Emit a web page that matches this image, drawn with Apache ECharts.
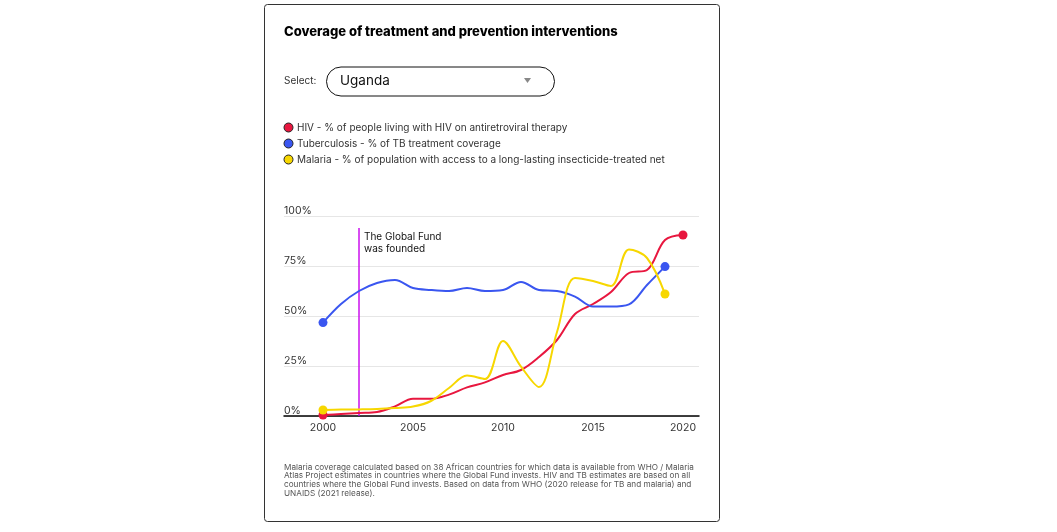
<!DOCTYPE html>
<html><head><meta charset="utf-8">
<script src="https://cdn.jsdelivr.net/npm/echarts@6/dist/echarts.min.js"></script>
<style>html,body{margin:0;padding:0;background:#fff}#c{width:1057px;height:532px}</style>
</head><body><div id="c"></div>
<script>
const years = [2000,2001,2002,2003,2004,2005,2006,2007,2008,2009,2010,2011,2012,2013,2014,2015,2016,2017,2018,2019,2020];
const xTicks = [2000,2005,2010,2015,2020];
const yTicks = [0,25,50,75,100];
const hiv = [0.5,1,1.5,2,4.8,8.6,8.6,10.7,14.3,16.8,20.5,23,29.5,38,51,56,62,71.5,73,88,90.5];
const tb = [46.7,56,62.5,66.5,68,64,63,62.5,64,62.5,63,67,63,62.5,59.7,54.7,54.7,55.8,65.5,74.7];
const malaria = [3,3.2,3.3,3.5,4,4.7,7.5,14,20.2,18.5,37.5,24.7,14.5,42,69,67.5,65,83.3,79,61];
const names = [
  'HIV - % of people living with HIV on antiretroviral therapy',
  'Tuberculosis - % of TB treatment coverage',
  'Malaria - % of population with access to a long-lasting insecticide-treated net'
];
const colors = ['#e8173f','#3a56f0','#f7d700'];
const foundedYear = 2002;
const foundedTop = 94;
const title = 'Coverage of treatment and prevention interventions';
const selectLabel = 'Select:';
const selected = 'Uganda';
const note = 'Malaria coverage calculated based on 38 African countries for which data is available from WHO / Malaria\nAtlas Project estimates in countries where the Global Fund invests. HIV and TB estimates are based on all\ncountries where the Global Fund invests. Based on data from WHO (2020 release for TB and malaria) and\nUNAIDS (2021 release).';

const FONT = 'Inter, "Noto Sans", sans-serif';
const seriesData = [hiv, tb, malaria];
const series = [];
series.push({
  type: 'line', data: [[foundedYear, 0], [foundedYear, foundedTop]], symbol: 'none',
  lineStyle: {width: 1.4, color: '#c800ec'}, z: 2, silent: true
});
seriesData.forEach((arr, i) => {
  const pts = arr.map((v, k) => [years[k], v]);
  series.push({
    name: names[i], type: 'line', data: pts, smooth: 0.35, symbol: 'none',
    lineStyle: {width: 2, color: colors[i]}, itemStyle: {color: colors[i]},
    z: 3 + i, silent: true
  });
});
seriesData.forEach((arr, i) => {
  series.push({
    name: names[i], type: 'scatter', symbol: 'circle', symbolSize: 9,
    data: [[years[0], arr[0]], [years[arr.length - 1], arr[arr.length - 1]]],
    itemStyle: {color: colors[i], opacity: 1}, z: 6 + i, silent: true
  });
});

const chart = echarts.init(document.getElementById('c'), null, {renderer: 'canvas'});
chart.setOption({
  animation: false,
  textStyle: {fontFamily: FONT},
  grid: {left: 284, right: 358, top: 216, bottom: 116, containLabel: false},
  xAxis: {
    type: 'value', min: 1997.833, max: 2020.889,
    axisLine: {show: true, lineStyle: {color: '#000', width: 1.5}},
    axisTick: {show: false},
    splitLine: {show: false},
    axisLabel: {customValues: xTicks, color: '#333', fontSize: 10.5, margin: 6, fontFamily: FONT, formatter: v => String(v)}
  },
  yAxis: {
    type: 'value', min: 0, max: 100, interval: 25,
    axisLine: {show: false}, axisTick: {show: false},
    splitLine: {show: true, lineStyle: {color: '#e6e6e6', width: 1}},
    axisLabel: {inside: true, margin: 0, verticalAlign: 'bottom', lineHeight: 10, padding: [0,0,0,0],
      color: '#333', fontSize: 10.5, fontFamily: FONT, formatter: v => v + '%'}
  },
  legend: {
    orient: 'vertical', left: 283.5, top: 122.5, padding: 0, itemGap: 6, itemWidth: 9, itemHeight: 9,
    icon: 'circle', selectedMode: false,
    data: names.map((n, i) => ({name: n, itemStyle: {color: colors[i], borderColor: '#222', borderWidth: 1}})),
    textStyle: {color: '#333', fontSize: 10, fontFamily: FONT, padding: [0,0,0,-1]},
  },
  graphic: [
    {type: 'rect', shape: {x: 264.5, y: 4.5, width: 455, height: 517, r: 3}, style: {fill: 'none', stroke: '#333', lineWidth: 1}, z: -1},
    {type: 'text', left: 284, top: 26, style: {text: title, fontSize: 13, fontWeight: 800, fill: '#000', fontFamily: FONT}},
    {type: 'text', left: 284, top: 76, style: {text: selectLabel, fontSize: 10, fill: '#333', fontFamily: FONT}},
    {type: 'rect', shape: {x: 326.5, y: 67, width: 228, height: 29, r: 14.5}, style: {fill: '#fff', stroke: '#111', lineWidth: 1}},
    {type: 'text', left: 340, top: 74, style: {text: selected, fontSize: 13.5, fill: '#111', fontFamily: FONT}},
    {type: 'polygon', shape: {points: [[524,78],[531,78],[527.5,83]]}, style: {fill: '#888'}},
    {type: 'text', left: 364, top: 231, style: {text: 'The Global Fund\nwas founded', fontSize: 10, lineHeight: 12, fill: '#111', fontFamily: FONT}, z: 10},
    {type: 'text', left: 284, top: 463, style: {text: note, fontSize: 8.2, lineHeight: 8.6, fill: '#555', fontFamily: FONT}}
  ],
  series: series
});
</script></body></html>
